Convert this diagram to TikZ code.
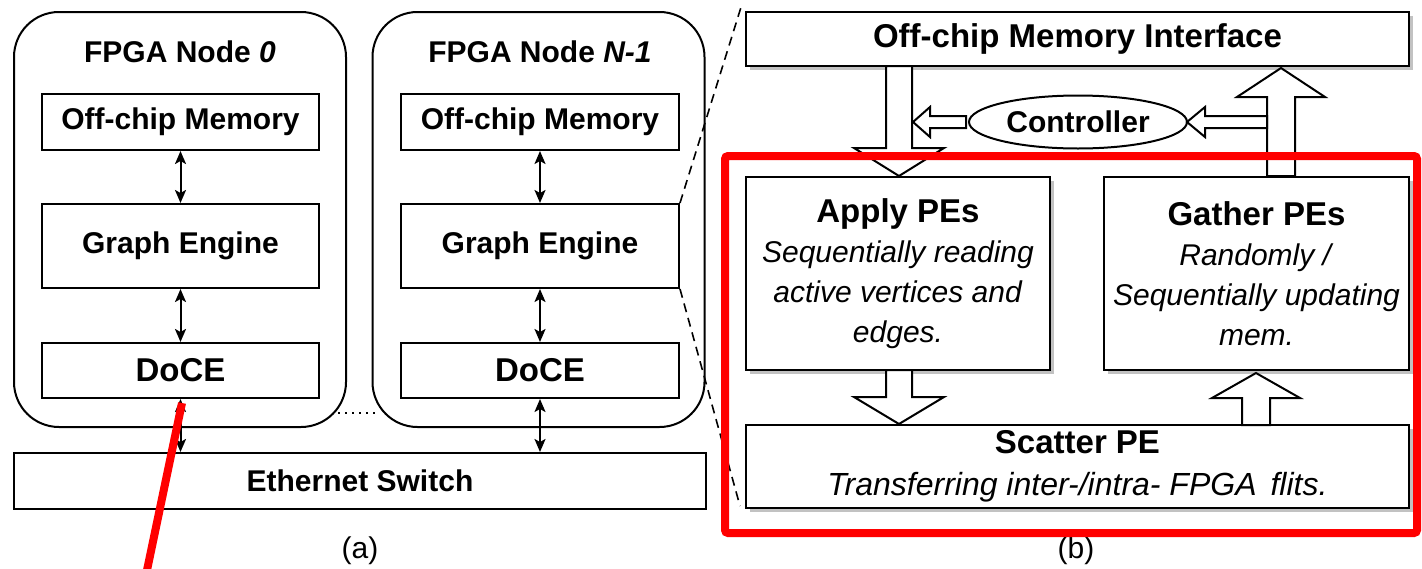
\documentclass[tikz,border=0pt]{standalone}
\usepackage{fontspec}
\setmainfont{Liberation Sans}
\usetikzlibrary{shapes.geometric,arrows.meta,shadows,calc}
\newcommand{\vblk}[6]{% x, tail, base, tip, shaft half, head half
  \draw[blk] ({#1-#5},#2) -- ({#1-#5},#3) -- ({#1-#6},#3) -- (#1,#4) -- ({#1+#6},#3) -- ({#1+#5},#3) -- ({#1+#5},#2) -- cycle;}
\newcommand{\hblk}[6]{% y, tail, base, tip, shaft half, head half
  \draw[blk] (#2,{#1-#5}) -- (#3,{#1-#5}) -- (#3,{#1-#6}) -- (#4,#1) -- (#3,{#1+#6}) -- (#3,{#1+#5}) -- (#2,{#1+#5}) -- cycle;}
\begin{document}
\begin{tikzpicture}[x=1pt,y=-1pt,
  every node/.style={font=\fontsize{30}{36}\selectfont},
  lbox/.style={draw, line width=2pt, inner sep=0pt, font=\fontsize{30}{36}\selectfont\bfseries},
  rbox/.style={draw, line width=2pt, fill=white, inner sep=0pt, align=center,
    drop shadow={shadow xshift=4pt, shadow yshift=-4pt, fill=black!40, opacity=0.6}},
  dbl/.style={{Stealth[length=13pt,width=11pt,inset=3pt]}-{Stealth[length=13pt,width=11pt,inset=3pt]}, line width=2pt},
  blk/.style={draw, line width=2pt, fill=white, line join=miter},
  fpga/.style={draw, line width=2pt, rounded corners=45pt, minimum width=332pt, minimum height=415pt, inner sep=0pt},
  zoomline/.style={dash pattern=on 9pt off 6pt, line width=1.6pt},
  redmark/.style={draw=red, line width=8pt}
]
\useasboundingbox (0,0) rectangle (1422,568);
% ---------- (a) ----------
\node[fpga] (f0) at (180,219.5) {};
\node[fpga] (f1) at (538.5,219.5) {};
\node[font=\fontsize{30}{36}\selectfont\bfseries] (t0) at (180,52) {FPGA Node \textit{0}};
\node[font=\fontsize{30}{36}\selectfont\bfseries] (t1) at (540,52) {FPGA Node \textit{N-1}};
\node[lbox, minimum width=277pt, minimum height=56pt] (m0) at (180.5,122) {Off-chip Memory};
\node[lbox, minimum width=277pt, minimum height=84pt] (g0) at (180.5,246) {Graph Engine};
\node[lbox, minimum width=277pt, minimum height=55pt, font=\fontsize{33}{36}\selectfont\bfseries] (d0) at (180.5,370.5) {DoCE};
\node[lbox, minimum width=278pt, minimum height=56pt] (m1) at (540,122) {Off-chip Memory};
\node[lbox, minimum width=278pt, minimum height=84pt] (g1) at (540,246) {Graph Engine};
\node[lbox, minimum width=278pt, minimum height=55pt, font=\fontsize{33}{36}\selectfont\bfseries] (d1) at (540,370.5) {DoCE};
\node[lbox, minimum width=692pt, minimum height=56pt] (eth) at (360,481) {Ethernet Switch};
\draw[dbl] (m0) -- (g0);
\draw[dbl] (g0) -- (d0);
\draw[dbl] (m1) -- (g1);
\draw[dbl] (g1) -- (d1);
\draw[dbl] (d0.south) -- (d0.south |- eth.north);
\draw[dbl] (d1.south) -- (d1.south |- eth.north);
\draw[line width=1.6pt, dash pattern=on 2pt off 5pt] (338,413) -- (378,413);
\node (la) at (360,551) {(a)};
% ---------- (b) ----------
\coordinate (z1) at (742,4);
\coordinate (z2) at (740,506);
\draw[zoomline] (g1.north east) -- (z1);
\draw[zoomline] (g1.south east) -- (z2);
\node[rbox, minimum width=663pt, minimum height=54pt, font=\fontsize{33}{36}\selectfont\bfseries] (omi) at (1077.5,39) {Off-chip Memory Interface};
\node[rbox, minimum width=304pt, minimum height=193pt, font=\fontsize{30}{40}\selectfont] (apply) at (898,273.5)
  {{\fontsize{33}{40}\selectfont\bfseries Apply PEs}\\ \textit{Sequentially reading}\\ \textit{active vertices and}\\ \textit{edges.}};
\node[rbox, minimum width=305pt, minimum height=193pt, font=\fontsize{30}{40}\selectfont] (gather) at (1256.5,273.5)
  {{\fontsize{33}{40}\selectfont\bfseries Gather PEs}\\ \textit{Randomly /}\\ \textit{Sequentially updating}\\ \textit{mem.}};
\node[rbox, minimum width=663pt, minimum height=83pt, font=\fontsize{32}{42}\selectfont] (scatter) at (1077.5,466.5)
  {{\fontsize{33}{42}\selectfont\bfseries Scatter PE}\\ \textit{Transferring inter-/intra- FPGA\hspace{14pt}flits.}};
\node[draw, line width=2pt, ellipse, minimum width=218pt, minimum height=53pt, inner sep=0pt, font=\fontsize{30}{36}\selectfont\bfseries] (ctrl) at (1078,122) {Controller};
% block arrows
\vblk{899}{66}{148}{176}{13}{45}
\vblk{1281}{176}{97}{68}{14}{44}
\vblk{899}{370}{397}{424}{13}{45}
\vblk{1256}{425}{398}{373}{14}{44}
\hblk{122}{966}{930}{913}{6}{15}
\hblk{122}{1267}{1205}{1187}{6}{15}
\node (lb) at (1076,551) {(b)};
% red annotations
\draw[redmark, rounded corners=3pt] (725,156) rectangle (1417,533);
\draw[draw=red, line width=8pt] (182,403) -- (146,575);
\end{tikzpicture}
\end{document}
